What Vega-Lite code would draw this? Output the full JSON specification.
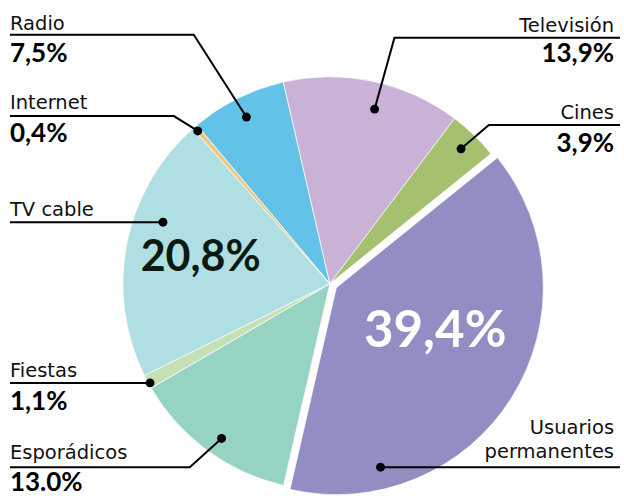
{
  "$schema": "https://vega.github.io/schema/vega-lite/v6.json",
  "width": 624,
  "height": 496,
  "autosize": {"type": "fit", "contains": "padding"},
  "padding": 0,
  "background": "white",
  "config": {"view": {"stroke": null}},
  "datasets": {
    "slices": [
      {"category": "Radio", "pct": 7.5, "order": 1},
      {"category": "Televisión", "pct": 13.9, "order": 2},
      {"category": "Cines", "pct": 3.9, "order": 3},
      {"category": "Usuarios permanentes", "pct": 39.4, "order": 4},
      {"category": "Esporádicos", "pct": 13.0, "order": 5},
      {"category": "Fiestas", "pct": 1.1, "order": 6},
      {"category": "TV cable", "pct": 20.8, "order": 7},
      {"category": "Internet", "pct": 0.4, "order": 8}
    ],
    "leaders": [
      {"label": "Radio", "seq": 1, "x": -322, "y": 251},
      {"label": "Radio", "seq": 2, "x": -137, "y": 251},
      {"label": "Radio", "seq": 3, "x": -84, "y": 168},
      {"label": "Internet", "seq": 1, "x": -322, "y": 169},
      {"label": "Internet", "seq": 2, "x": -157, "y": 169},
      {"label": "Internet", "seq": 3, "x": -133, "y": 154},
      {"label": "TV cable", "seq": 1, "x": -322, "y": 62},
      {"label": "TV cable", "seq": 2, "x": -168, "y": 62},
      {"label": "Fiestas", "seq": 1, "x": -322, "y": -100},
      {"label": "Fiestas", "seq": 2, "x": -181, "y": -100},
      {"label": "Esporádicos", "seq": 1, "x": -322, "y": -185},
      {"label": "Esporádicos", "seq": 2, "x": -141, "y": -185},
      {"label": "Esporádicos", "seq": 3, "x": -109, "y": -156},
      {"label": "Televisión", "seq": 1, "x": 292, "y": 248},
      {"label": "Televisión", "seq": 2, "x": 65, "y": 248},
      {"label": "Televisión", "seq": 3, "x": 45, "y": 176},
      {"label": "Cines", "seq": 1, "x": 292, "y": 160},
      {"label": "Cines", "seq": 2, "x": 160, "y": 160},
      {"label": "Cines", "seq": 3, "x": 132, "y": 136},
      {"label": "Usuarios permanentes", "seq": 1, "x": 292, "y": -185},
      {"label": "Usuarios permanentes", "seq": 2, "x": 51, "y": -185}
    ],
    "dots": [
      {"label": "Radio", "x": -84, "y": 168},
      {"label": "Internet", "x": -133, "y": 154},
      {"label": "TV cable", "x": -168, "y": 62},
      {"label": "Fiestas", "x": -181, "y": -100},
      {"label": "Esporádicos", "x": -109, "y": -156},
      {"label": "Televisión", "x": 45, "y": 176},
      {"label": "Cines", "x": 132, "y": 136},
      {"label": "Usuarios permanentes", "x": 51, "y": -185}
    ],
    "names": [
      {"text": "Radio", "side": "left", "x": -322, "y": 256},
      {"text": "Internet", "side": "left", "x": -322, "y": 176},
      {"text": "TV cable", "side": "left", "x": -322, "y": 68},
      {"text": "Fiestas", "side": "left", "x": -322, "y": -94},
      {"text": "Esporádicos", "side": "left", "x": -322, "y": -177},
      {"text": "Televisión", "side": "right", "x": 286, "y": 254},
      {"text": "Cines", "side": "right", "x": 286, "y": 166},
      {"text": "Usuarios", "side": "right", "x": 286, "y": -152},
      {"text": "permanentes", "side": "right", "x": 286, "y": -176}
    ],
    "values": [
      {"text": "7,5%", "side": "left", "x": -322, "y": 224},
      {"text": "0,4%", "side": "left", "x": -322, "y": 143},
      {"text": "1,1%", "side": "left", "x": -322, "y": -127},
      {"text": "13.0%", "side": "left", "x": -322, "y": -209},
      {"text": "13,9%", "side": "right", "x": 286, "y": 223},
      {"text": "3,9%", "side": "right", "x": 286, "y": 133}
    ],
    "big": [
      {"text": "39,4%", "tone": "light", "x": 106, "y": -64},
      {"text": "20,8%", "tone": "dark", "x": -130, "y": 13}
    ]
  },
  "layer": [
    {
      "data": {"name": "slices"},
      "transform": [
        {"stack": "pct", "groupby": [], "sort": [{"field": "order"}], "as": ["t0", "t1"]},
        {"filter": "datum.category !== 'Usuarios permanentes'"}
      ],
      "mark": {"type": "arc", "outerRadius": 207, "stroke": "white", "strokeWidth": 0.7},
      "encoding": {
        "x": {"datum": 0, "type": "quantitative", "scale": {"domain": [-332, 292], "nice": false, "zero": false}, "axis": null},
        "y": {"datum": 0, "type": "quantitative", "scale": {"domain": [-210, 286], "nice": false, "zero": false}, "axis": null},
        "theta": {"field": "t0", "type": "quantitative", "scale": {"domain": [0, 100], "range": [-0.698, 5.585]}},
        "theta2": {"field": "t1"},
        "color": {
          "field": "category", "type": "nominal", "legend": null,
          "scale": {
            "domain": ["Radio", "Televisión", "Cines", "Usuarios permanentes", "Esporádicos", "Fiestas", "TV cable", "Internet"],
            "range": ["#63C2E8", "#C9B2D6", "#A5C170", "#928EC4", "#96D3C3", "#C5E0B5", "#B0DFE3", "#EAC987"]
          }
        }
      }
    },
    {
      "data": {"name": "slices"},
      "transform": [
        {"stack": "pct", "groupby": [], "sort": [{"field": "order"}], "as": ["t0", "t1"]},
        {"filter": "datum.category === 'Usuarios permanentes'"}
      ],
      "mark": {"type": "arc", "outerRadius": 207, "stroke": "white", "strokeWidth": 0.7},
      "encoding": {
        "x": {"datum": 6.5, "type": "quantitative", "scale": {"domain": [-332, 292], "nice": false, "zero": false}, "axis": null},
        "y": {"datum": -4, "type": "quantitative", "scale": {"domain": [-210, 286], "nice": false, "zero": false}, "axis": null},
        "theta": {"field": "t0", "type": "quantitative", "scale": {"domain": [0, 100], "range": [-0.698, 5.585]}},
        "theta2": {"field": "t1"},
        "color": {"field": "category", "type": "nominal", "legend": null}
      }
    },
    {
      "data": {"name": "leaders"},
      "mark": {"type": "line", "color": "#000000", "strokeWidth": 2},
      "encoding": {
        "x": {"field": "x", "type": "quantitative", "axis": null},
        "y": {"field": "y", "type": "quantitative", "axis": null},
        "detail": {"field": "label"},
        "order": {"field": "seq", "type": "quantitative"}
      }
    },
    {
      "data": {"name": "dots"},
      "mark": {"type": "point", "filled": true, "color": "#000000", "size": 80, "opacity": 1},
      "encoding": {
        "x": {"field": "x", "type": "quantitative", "axis": null},
        "y": {"field": "y", "type": "quantitative", "axis": null}
      }
    },
    {
      "data": {"name": "names"},
      "transform": [{"filter": "datum.side === 'left'"}],
      "mark": {"type": "text", "align": "left", "baseline": "alphabetic", "font": "DejaVu Sans", "fontSize": 19.5, "color": "#111111"},
      "encoding": {
        "x": {"field": "x", "type": "quantitative", "axis": null},
        "y": {"field": "y", "type": "quantitative", "axis": null},
        "text": {"field": "text"}
      }
    },
    {
      "data": {"name": "names"},
      "transform": [{"filter": "datum.side === 'right'"}],
      "mark": {"type": "text", "align": "right", "baseline": "alphabetic", "font": "DejaVu Sans", "fontSize": 19.5, "color": "#111111"},
      "encoding": {
        "x": {"field": "x", "type": "quantitative", "axis": null},
        "y": {"field": "y", "type": "quantitative", "axis": null},
        "text": {"field": "text"}
      }
    },
    {
      "data": {"name": "values"},
      "transform": [{"filter": "datum.side === 'left'"}],
      "mark": {"type": "text", "align": "left", "baseline": "alphabetic", "font": "Lato", "fontWeight": "bold", "fontSize": 26, "color": "#000000"},
      "encoding": {
        "x": {"field": "x", "type": "quantitative", "axis": null},
        "y": {"field": "y", "type": "quantitative", "axis": null},
        "text": {"field": "text"}
      }
    },
    {
      "data": {"name": "values"},
      "transform": [{"filter": "datum.side === 'right'"}],
      "mark": {"type": "text", "align": "right", "baseline": "alphabetic", "font": "Lato", "fontWeight": "bold", "fontSize": 26, "color": "#000000"},
      "encoding": {
        "x": {"field": "x", "type": "quantitative", "axis": null},
        "y": {"field": "y", "type": "quantitative", "axis": null},
        "text": {"field": "text"}
      }
    },
    {
      "data": {"name": "big"},
      "transform": [{"filter": "datum.tone === 'light'"}],
      "mark": {"type": "text", "align": "center", "baseline": "alphabetic", "font": "Lato", "fontWeight": "bold", "fontSize": 51, "color": "#FFFFFF"},
      "encoding": {
        "x": {"field": "x", "type": "quantitative", "axis": null},
        "y": {"field": "y", "type": "quantitative", "axis": null},
        "text": {"field": "text"}
      }
    },
    {
      "data": {"name": "big"},
      "transform": [{"filter": "datum.tone === 'dark'"}],
      "mark": {"type": "text", "align": "center", "baseline": "alphabetic", "font": "Lato", "fontWeight": "bold", "fontSize": 43, "color": "#0B1A10"},
      "encoding": {
        "x": {"field": "x", "type": "quantitative", "axis": null},
        "y": {"field": "y", "type": "quantitative", "axis": null},
        "text": {"field": "text"}
      }
    }
  ]
}
